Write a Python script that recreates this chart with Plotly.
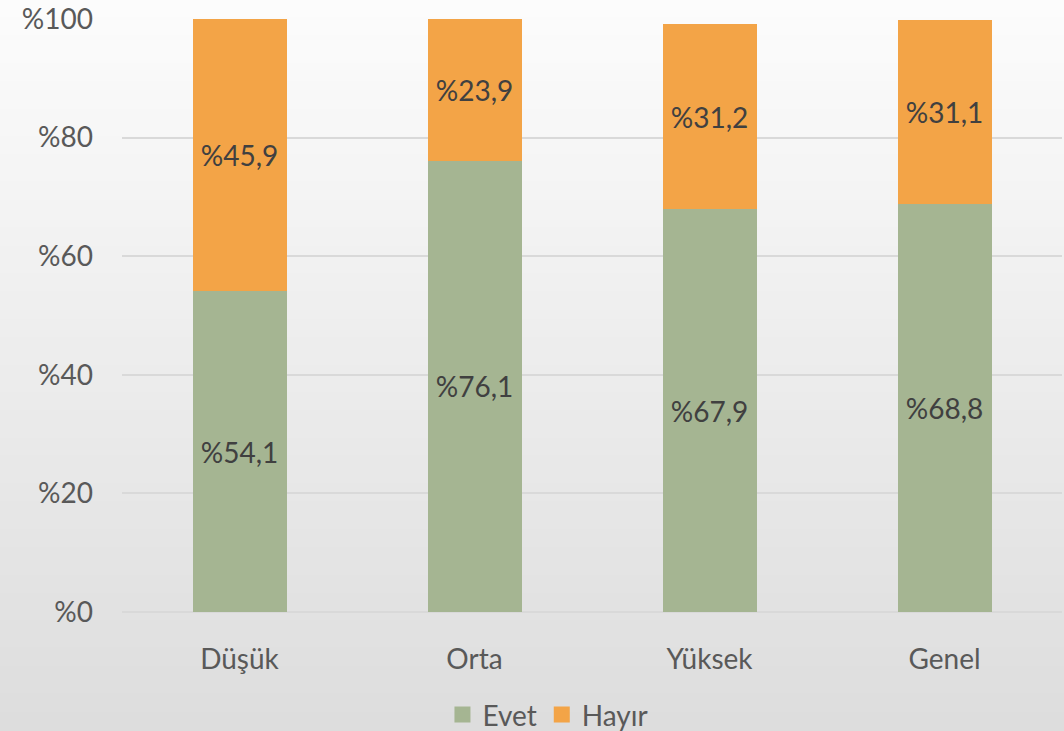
import plotly.graph_objects as go

categories = ["Düşük", "Orta", "Yüksek", "Genel"]
evet = [54.1, 76.1, 67.9, 68.8]
hayir = [45.9, 23.9, 31.2, 31.1]
tick_vals = [0, 20, 40, 60, 80, 100]
tick_text = ["%0", "%20", "%40", "%60", "%80", "%100"]
series_names = ["Evet", "Hayır"]
series_colors = ["#A5B592", "#F3A447"]

def fmt(v):
    return "%" + f"{v:.1f}".replace(".", ",")

font_family = "Lato, 'Open Sans', sans-serif"
FS = 28

fig = go.Figure()
for name, vals, col in zip(series_names, [evet, hayir], series_colors):
    fig.add_trace(go.Bar(
        x=categories, y=vals, name=name, showlegend=False,
        marker=dict(color=col, line=dict(width=0)),
        text=[fmt(v) for v in vals], textposition="inside", insidetextanchor="middle",
        textfont=dict(size=FS, color="#404040", family=font_family),
        constraintext="none", hoverinfo="skip",
    ))
# legend entries with larger square swatches
for name, col in zip(series_names, series_colors):
    fig.add_trace(go.Scatter(
        x=[None], y=[None], mode="markers", name=name,
        marker=dict(symbol="square", size=18, color=col),
    ))

# background vertical gradient
shapes = []
n = 80
top = (252, 252, 252)
bot = (221, 221, 221)
y0p = -119 / 593
y1p = 1 + 19 / 593
for i in range(n):
    t = i / (n - 1)
    c = tuple(int(round(top[k] + (bot[k] - top[k]) * t)) for k in range(3))
    ya = y1p - (y1p - y0p) * i / n
    yb = y1p - (y1p - y0p) * (i + 1) / n
    shapes.append(dict(type="rect", xref="paper", yref="paper",
                       x0=-0.3, x1=1.1, y0=yb - 0.002, y1=ya + 0.002,
                       fillcolor="rgb(%d,%d,%d)" % c, line=dict(width=0),
                       layer="below"))

fig.update_layout(
    width=1064, height=731,
    barmode="stack", bargap=0.6,
    margin=dict(l=122, r=2, t=19, b=119, autoexpand=False),
    paper_bgcolor="#eeeeee", plot_bgcolor="rgba(0,0,0,0)",
    shapes=shapes,
    font=dict(family=font_family, color="#595959", size=FS),
    showlegend=True,
    legend=dict(orientation="h", x=0.515, xanchor="center", xref="container",
                y=0.022, yanchor="middle", yref="container",
                font=dict(size=FS, color="#595959"), bgcolor="rgba(0,0,0,0)",
                itemwidth=30, traceorder="normal"),
    xaxis=dict(showgrid=False, showline=False, ticks="", ticklabelstandoff=28,
               tickfont=dict(size=FS, color="#595959")),
    yaxis=dict(range=[0, 100], tickvals=tick_vals, ticktext=tick_text,
               showgrid=True, gridcolor="#d9d9d9", gridwidth=1.5,
               zeroline=True, zerolinecolor="#d9d9d9", zerolinewidth=1.5,
               showline=False, ticks="", ticklabelstandoff=28,
               tickfont=dict(size=FS, color="#595959")),
)

fig.write_html("out.html", config={"displayModeBar": False},
               post_script="document.body.style.margin='0px';document.body.style.overflow='hidden';")
